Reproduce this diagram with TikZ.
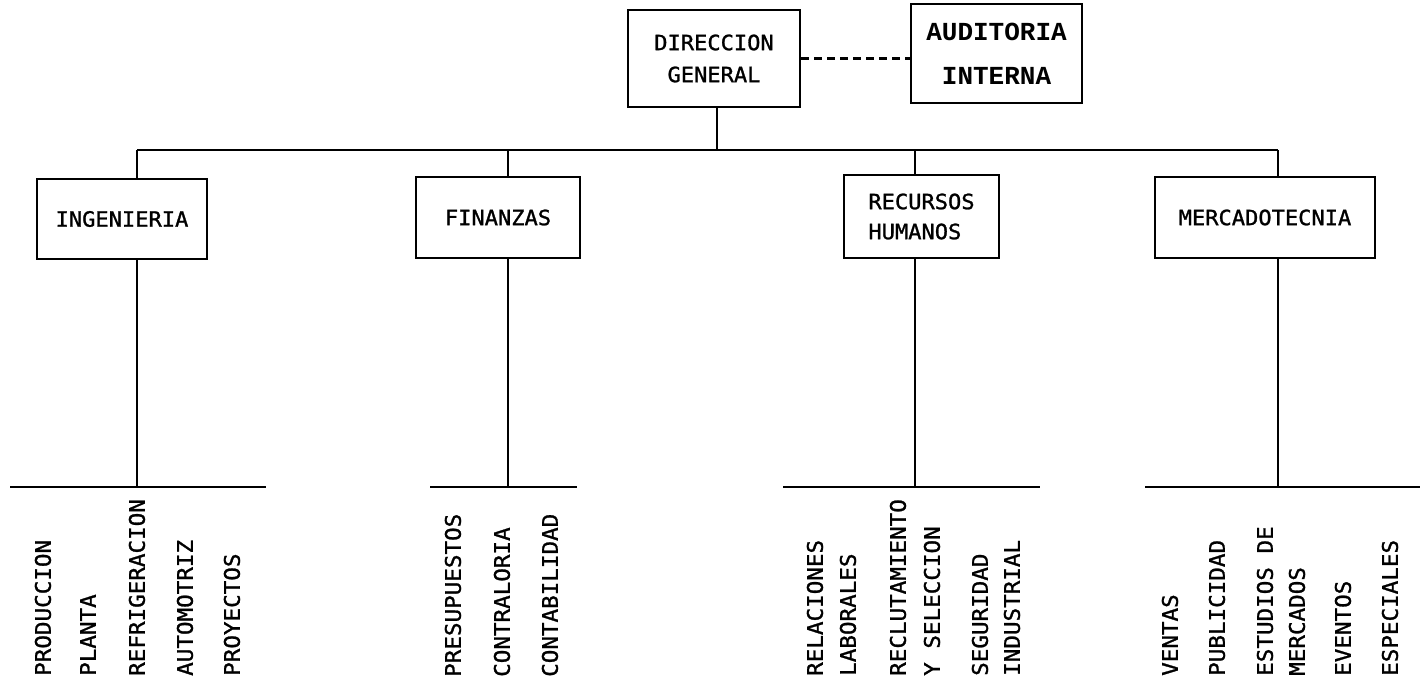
\documentclass[tikz,border=0pt]{standalone}
\usepackage{fontspec}
\newfontfamily\orgfont[FakeStretch=1.05,FakeBold=1.2]{DejaVu Sans Mono}
\newfontfamily\audfont{Liberation Mono}
\begin{document}
\begin{tikzpicture}[x=1pt,y=-1pt]
\tikzset{
  orgbox/.style={draw, line width=2.6pt, inner sep=0pt, align=center,
    font=\orgfont\fontsize{21}{32}\selectfont},
  conn/.style={line width=2.6pt},
  dashconn/.style={line width=2.6pt, dash pattern=on 8pt off 5pt},
  sublbl/.style={rotate=90, anchor=base west, inner sep=0pt,
    font=\orgfont\fontsize{21.5}{24}\selectfont}
}
\useasboundingbox (0,0) rectangle (1420,686);
\fill[white] (0,0) rectangle (1420,686);

% boxes
\node[orgbox, minimum width=172pt, minimum height=97pt] (dg) at (714,58.5) {DIRECCION\\GENERAL};
\node[orgbox, minimum width=171pt, minimum height=99pt,
      font=\audfont\bfseries\fontsize{26}{44}\selectfont] (aud) at (996.5,53.5) {AUDITORIA\\INTERNA};
\node[orgbox, minimum width=170pt, minimum height=80pt] (ing) at (122,219) {INGENIERIA};
\node[orgbox, minimum width=164pt, minimum height=81pt] (fin) at (498,217.5) {FINANZAS};
\node[orgbox, minimum width=155pt, minimum height=83pt, align=left,
      font=\orgfont\fontsize{21}{30}\selectfont] (rh) at (921.5,216.5) {RECURSOS\\HUMANOS};
\node[orgbox, minimum width=220pt, minimum height=81pt] (mer) at (1265,217.5) {MERCADOTECNIA};

% coordinates
\coordinate (ingBus) at (137,150);
\coordinate (finBus) at (508,150);
\coordinate (rhBus) at (915,150);
\coordinate (merBus) at (1278,150);
\coordinate (dgBus) at (717,150);
\coordinate (ingSub) at (137,487);
\coordinate (finSub) at (508,487);
\coordinate (rhSub) at (915,487);
\coordinate (merSub) at (1278,487);
\coordinate (ingL) at (10,487);   \coordinate (ingR) at (266,487);
\coordinate (finL) at (430,487);  \coordinate (finR) at (577,487);
\coordinate (rhL) at (783,487);   \coordinate (rhR) at (1040,487);
\coordinate (merL) at (1145,487); \coordinate (merR) at (1420,487);

% connectors
\draw[dashconn] (dg.east) -- (aud.west |- dg.east);
\draw[conn] (dgBus |- dg.south) -- (dgBus);
\draw[conn] (ingBus) -- (merBus);
\draw[conn] (ingBus) -- (ingBus |- ing.north);
\draw[conn] (finBus) -- (finBus |- fin.north);
\draw[conn] (rhBus) -- (rhBus |- rh.north);
\draw[conn] (merBus) -- (merBus |- mer.north);
\draw[conn] (ingSub |- ing.south) -- (ingSub);
\draw[conn] (finSub |- fin.south) -- (finSub);
\draw[conn] (rhSub |- rh.south) -- (rhSub);
\draw[conn] (merSub |- mer.south) -- (merSub);
\draw[conn] (ingL) -- (ingR);
\draw[conn] (finL) -- (finR);
\draw[conn] (rhL) -- (rhR);
\draw[conn] (merL) -- (merR);

% sub-unit labels
\node[sublbl] (l1) at (50.8,676) {PRODUCCION};
\node[sublbl] (l2) at (95.8,676) {PLANTA};
\node[sublbl] (l3) at (144.8,676) {REFRIGERACION};
\node[sublbl] (l4) at (192.8,676) {AUTOMOTRIZ};
\node[sublbl] (l5) at (239.8,676) {PROYECTOS};

\node[sublbl] (f1) at (460.8,677) {PRESUPUESTOS};
\node[sublbl] (f2) at (509.8,677) {CONTRALORIA};
\node[sublbl] (f3) at (557.8,677) {CONTABILIDAD};

\node[sublbl] (r1a) at (822.8,676) {RELACIONES};
\node[sublbl] (r1b) at (855.8,676) {LABORALES};
\node[sublbl] (r2a) at (905.8,676) {RECLUTAMIENTO};
\node[sublbl] (r2b) at (939.8,676) {Y SELECCION};
\node[sublbl] (r3a) at (987.8,676) {SEGURIDAD};
\node[sublbl] (r3b) at (1019.8,676) {INDUSTRIAL};

\node[sublbl] (m1) at (1177.8,676) {VENTAS};
\node[sublbl] (m2) at (1224.8,676) {PUBLICIDAD};
\node[sublbl] (m3a) at (1272.8,676) {ESTUDIOS DE};
\node[sublbl] (m3b) at (1304.8,676) {MERCADOS};
\node[sublbl] (m4a) at (1350.8,676) {EVENTOS};
\node[sublbl] (m4b) at (1397.8,676) {ESPECIALES};
\end{tikzpicture}
\end{document}
